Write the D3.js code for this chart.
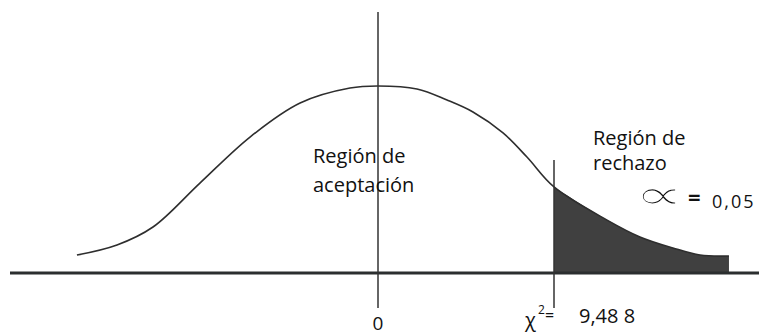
<!DOCTYPE html>
<meta charset="utf-8">
<head>
  <style>
    body { margin: 0; background: #fff; }
    .lbl { font-family: "Open Sans", sans-serif; fill: #111; }
  </style>
  <script src="https://cdn.jsdelivr.net/npm/d3@7"></script>
</head>
<body>
  <svg width="759" height="336"></svg>
  <script>
    // curve (x in chi-square units, height relative to peak)
    var curveX = [-16.23, -14.07, -12.13, -9.60, -6.90, -4.20, -1.51, 0, 2.10, 3.72, 5.12, 6.74, 8.03, 9.488, 12.35, 14.12, 15.90, 17.36, 18.92];
    var curveY = [0.096, 0.150, 0.246, 0.481, 0.727, 0.909, 0.989, 1.0, 0.984, 0.925, 0.861, 0.749, 0.620, 0.460, 0.283, 0.193, 0.134, 0.096, 0.091];
    var critical = 9.488;
    var alpha = "0,05";
    var criticalLabel = "9,48 8";
    var centerLabel = "0";

    var svg = d3.select("svg"),
    width = +svg.attr("width"),
    height = +svg.attr("height");

    var x = d3.scaleLinear().domain([0, critical]).range([378, 554]);
    var y = d3.scaleLinear().domain([0, 1]).range([273, 86]);

    var pts = curveX.map(function(d, i) { return [d, curveY[i]]; });
    var tail = pts.filter(function(d) { return d[0] >= critical; });

    // shaded rejection region
    svg.append("path")
    .datum(tail)
    .attr("fill", "#404040")
    .attr("d", d3.area()
      .x(function(d) { return x(d[0]); })
      .y0(y(0))
      .y1(function(d) { return y(d[1]); })
      .curve(d3.curveCatmullRom));

    // density curve
    svg.append("path")
    .datum(pts)
    .attr("fill", "none")
    .attr("stroke", "#2e2e2e")
    .attr("stroke-width", 1.6)
    .attr("d", d3.line()
      .x(function(d) { return x(d[0]); })
      .y(function(d) { return y(d[1]); })
      .curve(d3.curveCatmullRom));

    // baseline
    svg.append("line")
    .attr("x1", 10).attr("x2", width)
    .attr("y1", y(0)).attr("y2", y(0))
    .attr("stroke", "#2b2e2f")
    .attr("stroke-width", 3);

    // center line
    svg.append("line")
    .attr("x1", x(0)).attr("x2", x(0))
    .attr("y1", y(1.396)).attr("y2", y(-0.187))
    .attr("stroke", "#333")
    .attr("stroke-width", 1.5);

    // critical value line
    svg.append("line")
    .attr("x1", x(critical)).attr("x2", x(critical))
    .attr("y1", y(0.604)).attr("y2", y(-0.187))
    .attr("stroke", "#333")
    .attr("stroke-width", 1.5);

    // labels
    function label(txt, px, py, size, anchor) {
      return svg.append("text")
      .attr("class", "lbl")
      .attr("x", px).attr("y", py)
      .attr("font-size", size + "px")
      .attr("text-anchor", anchor || "start")
      .text(txt);
    }

    label("Región de", 313, 163, 20);
    label("aceptación", 313, 192, 20);
    label("Región de", 593, 145, 20);
    label("rechazo", 593, 170, 20);

    label(centerLabel, x(0), 330, 19, "middle");

    label("χ", 525, 327, 20);
    label("2", 538, 314, 12);
    label("=", 545, 321, 16);
    label(criticalLabel, 579, 323, 20);

    // alpha symbol: thick glyph thinned with a white stroke on top
    svg.append("text")
    .attr("class", "lbl")
    .attr("font-family", "DejaVu Sans")
    .attr("font-size", "28px")
    .attr("stroke", "#fff")
    .attr("stroke-width", 1.1)
    .attr("transform", "translate(634,209) scale(2.5,1.5)")
    .text("∝");
    label("=", 688, 205, 22).attr("font-weight", "bold");
    label(alpha, 712, 208, 18).attr("letter-spacing", "2px");
  </script>
</body>
